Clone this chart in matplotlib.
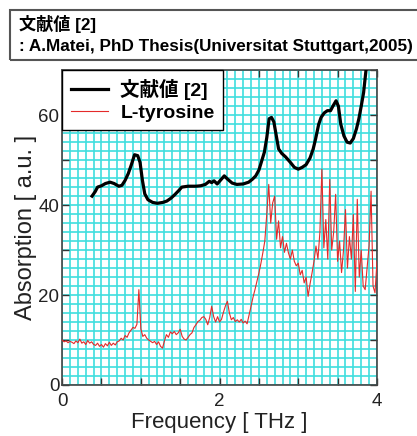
import numpy as np
import matplotlib.pyplot as plt
from matplotlib.patches import Rectangle
from matplotlib.ticker import MultipleLocator, FuncFormatter

plt.rcParams['font.family'] = ['Liberation Sans', 'Noto Sans CJK JP', 'DejaVu Sans']

# literature spectrum (black)
lit_freq = [0.38, 0.42, 0.45, 0.50, 0.55, 0.61, 0.66, 0.72, 0.76, 0.80, 0.84, 0.88, 0.92, 0.96,
            0.99, 1.02, 1.05, 1.09, 1.15, 1.21, 1.28, 1.33, 1.38, 1.43, 1.48, 1.52, 1.60, 1.70,
            1.76, 1.82, 1.87, 1.90, 1.93, 1.97, 2.01, 2.06, 2.10, 2.16, 2.22, 2.30, 2.37, 2.42,
            2.46, 2.50, 2.53, 2.57, 2.60, 2.63, 2.66, 2.69, 2.72, 2.75, 2.79, 2.84, 2.90, 2.95,
            3.00, 3.05, 3.10, 3.15, 3.19, 3.22, 3.26, 3.29, 3.33, 3.37, 3.41, 3.44, 3.48, 3.51,
            3.54, 3.58, 3.62, 3.66, 3.70, 3.74, 3.77, 3.80, 3.83, 3.86, 3.88]
lit_abs = [42.0, 43.0, 44.0, 44.3, 44.8, 45.1, 44.8, 44.2, 44.4, 45.5, 47.0, 49.0, 51.2, 51.0,
           49.5, 45.5, 42.5, 41.2, 40.6, 40.4, 40.6, 40.9, 41.5, 42.3, 43.2, 44.0, 44.2, 44.2,
           44.3, 44.6, 45.3, 45.0, 45.4, 44.7, 45.5, 46.5, 45.8, 44.9, 44.6, 44.7, 45.1, 45.8,
           46.5, 47.8, 49.5, 51.8, 55.0, 59.2, 59.5, 58.5, 55.5, 52.5, 51.5, 50.7, 49.5, 48.4,
           48.0, 48.4, 49.0, 50.5, 52.5, 54.7, 58.0, 59.5, 60.5, 61.0, 61.0, 62.0, 63.2, 62.0,
           58.0, 55.4, 54.0, 53.8, 54.8, 57.0, 59.2, 62.0, 65.0, 69.9, 72.0]

# L-tyrosine spectrum (red), sampled every 0.025 THz from 0 to 4
tyr_abs = [10.0, 9.6, 9.8, 9.4, 9.7, 9.5, 9.2, 9.8,
           9.4, 10.2, 9.3, 9.6, 9.0, 9.9, 9.3, 9.6,
           9.0, 8.8, 9.3, 8.6, 9.0, 8.4, 9.2, 8.7,
           9.5, 8.8, 9.3, 8.9, 9.6, 9.8, 10.4, 10.0,
           11.0, 10.6, 11.6, 12.2, 12.8, 12.6, 13.5, 21.2,
           12.5, 10.8, 11.2, 10.4, 10.0, 9.7, 9.4, 9.7,
           9.0, 9.6, 8.6, 8.2, 9.8, 11.2, 10.6, 11.8,
           11.4, 11.9, 11.2, 11.6, 12.4, 10.8, 10.2, 10.0,
           10.6, 11.2, 11.6, 12.8, 13.4, 14.1, 14.4, 15.0,
           15.2, 14.6, 13.4, 15.0, 17.5, 15.2, 14.0, 15.2,
           14.0, 14.6, 16.2, 17.6, 18.6, 16.0, 14.5, 15.0,
           14.1, 14.5, 14.0, 14.6, 13.8, 14.2, 13.6, 15.5,
           17.5, 19.5, 21.2, 23.0, 24.9, 27.0, 29.4, 32.0,
           38.0, 44.6, 36.0, 40.5, 42.0, 32.4, 36.5, 30.5,
           33.0, 29.5, 31.5, 29.4, 28.0, 30.0, 27.5, 26.5,
           27.1, 24.5, 25.5, 22.7, 24.0, 19.7, 22.5, 24.9,
           27.5, 30.9, 28.0, 34.0, 48.0, 30.5, 36.8, 28.0,
           45.7, 30.0, 34.0, 42.4, 27.5, 32.0, 25.0, 30.0,
           39.0, 26.0, 33.0, 28.0, 37.9, 20.8, 41.3, 24.0,
           30.0, 22.0, 21.2, 26.0, 31.0, 43.1, 22.0, 20.5,
           27.5]
tyr_freq = np.arange(len(tyr_abs)) * 0.025

fig = plt.figure(figsize=(4.17, 4.36), dpi=100)
ax = fig.add_axes([0.149, 0.117, 0.755, 0.722])

ax.plot(lit_freq, lit_abs, color='black', lw=2.3, label='文献値 [2]', zorder=3)
ax.plot(tyr_freq, tyr_abs, color='#e42a2a', lw=0.8, label='L-tyrosine', zorder=3)

ax.set_xlim(0, 4)
ax.set_ylim(0, 70)
ax.xaxis.set_major_locator(MultipleLocator(0.5))
ax.xaxis.set_minor_locator(MultipleLocator(0.1))
ax.yaxis.set_major_locator(MultipleLocator(10))
ax.yaxis.set_minor_locator(MultipleLocator(2))
ax.xaxis.set_major_formatter(FuncFormatter(lambda v, p: '%d' % v if abs(v / 2 - round(v / 2)) < 1e-6 else ''))
ax.yaxis.set_major_formatter(FuncFormatter(lambda v, p: '%d' % v if int(round(v)) % 20 == 0 else ''))
ax.tick_params(which='major', direction='in', length=5, width=1, top=True, right=True,
               labelsize=13.5, colors='#333333', labelcolor='#222222', pad=2)
ax.tick_params(axis='x', which='major', pad=6)
ax.tick_params(which='minor', length=0)
ax.grid(which='both', color='#40dede', lw=1.2)
ax.set_axisbelow(True)
for s in ax.spines.values():
    s.set_color('#444444')
    s.set_linewidth(1.2)

ax.set_xlabel('Frequency [ THz ]', fontsize=16, color='#222222', labelpad=1)
ax.set_ylabel('Absorption [ a.u. ]', fontsize=17, color='#222222', labelpad=1)

leg = ax.legend(loc='upper left', bbox_to_anchor=(0, 1), borderaxespad=0, fancybox=False,
                framealpha=1, edgecolor='black', prop={'weight': 'bold', 'size': 14},
                handlelength=1.9, handletextpad=0.65, borderpad=0.45, labelspacing=0.2)
leg.get_frame().set_linewidth(1.0)
leg.set_zorder(5)

# reference box at the top
fig.patches.append(Rectangle((10 / 417, 1 - 60 / 436), 420 / 417, 50 / 436, transform=fig.transFigure,
                             fill=False, edgecolor='#555555', lw=1.5))
fig.text(19 / 417, 1 - 24 / 436, '文献値 [2]', fontsize=12.3, fontweight='bold', va='center')
fig.text(19 / 417, 1 - 46 / 436, ': A.Matei, PhD Thesis(Universitat Stuttgart,2005)',
         fontsize=12.3, fontweight='bold', va='center')

fig.savefig('out.png', dpi=100)
